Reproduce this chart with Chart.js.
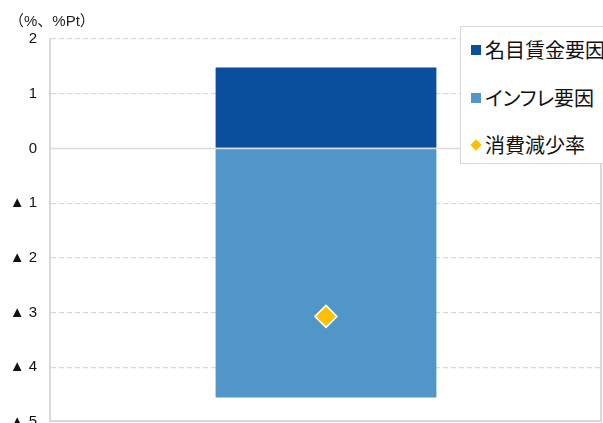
<!DOCTYPE html>
<html>
<head>
<meta charset="utf-8">
<script src="https://cdn.jsdelivr.net/npm/chart.js@4/dist/chart.umd.min.js"></script>
<style>
  html, body { margin: 0; padding: 0; background: #fff; }
  #wrap { width: 603px; height: 423px; position: relative; overflow: hidden; }
  #legend {
    position: absolute; left: 460px; top: 26px; width: 160px; height: 138px;
    background: #fff; border: 1.5px solid #d9d9d9; box-sizing: border-box;
  }
  .item {
    position: absolute; left: 0; height: 28px; line-height: 28px; white-space: nowrap;
    font-family: "Noto Sans CJK JP", sans-serif; font-size: 20px; color: #111;
    font-feature-settings: "palt";
  }
  .item .mk { position: absolute; left: 10px; top: 9px; width: 10px; height: 10px; }
  .item .mk.diamond { left: 11px; top: 10px; width: 8px; height: 8px; transform: rotate(45deg); }
  .item .tx { position: absolute; left: 24px; top: 0; }
</style>
</head>
<body>
<div id="wrap">
  <canvas id="c" width="603" height="423"></canvas>
  <div id="legend"></div>
</div>
<script>
// 消費減少率の要因分解
const categories = [''];
const seriesNames = ['名目賃金要因', 'インフレ要因', '消費減少率'];
const nominalWage = [1.48];
const inflation = [-4.55];
const consumptionDecline = [-3.07];
const tickValues = [2, 1, 0, -1, -2, -3, -4, -5];
const tickLabels = ['2', '1', '0', '▲ 1', '▲ 2', '▲ 3', '▲ 4', '▲ 5'];
const unitLabel = '（%、%Pt）';

const colors = ['#0A4F9E', '#5096C9', '#FFC000'];
const gridColor = '#d9d9d9';
const latin = '"Liberation Sans", Arial, "Noto Sans CJK JP", sans-serif';

// solid lines at zero, bottom and right edge of the plot area
const frameLines = {
  id: 'frameLines',
  afterDatasetsDraw(chart) {
    const { ctx, chartArea: a, scales: { y } } = chart;
    ctx.save();
    ctx.strokeStyle = gridColor;
    ctx.lineWidth = 1.5;
    const y0 = Math.round(y.getPixelForValue(0)) + 0.5;
    ctx.beginPath();
    ctx.moveTo(a.left, y0); ctx.lineTo(a.right, y0);
    ctx.stroke();
    ctx.lineWidth = 2;
    const yb = Math.round(y.getPixelForValue(y.min)) - 1;
    ctx.beginPath();
    ctx.moveTo(a.left, yb); ctx.lineTo(a.right, yb);
    ctx.moveTo(a.right - 1, a.top); ctx.lineTo(a.right - 1, yb);
    ctx.stroke();
    ctx.restore();
  }
};

// unit label above the value axis
const unitText = {
  id: 'unitText',
  afterDraw(chart) {
    const { ctx } = chart;
    ctx.save();
    ctx.font = '15px ' + latin;
    ctx.fillStyle = '#222';
    ctx.textAlign = 'left';
    ctx.textBaseline = 'middle';
    ctx.fillText(unitLabel, 9, 22);
    ctx.restore();
  }
};

const chart = new Chart(document.getElementById('c'), {
  data: {
    labels: categories,
    datasets: [
      { type: 'bar', label: seriesNames[0], data: nominalWage, backgroundColor: colors[0],
        barPercentage: 0.4, categoryPercentage: 1, order: 2 },
      { type: 'bar', label: seriesNames[1], data: inflation, backgroundColor: colors[1],
        barPercentage: 0.4, categoryPercentage: 1, order: 2 },
      { type: 'line', label: seriesNames[2], data: consumptionDecline, showLine: false,
        pointStyle: 'rectRot', pointRadius: 11, pointHoverRadius: 11,
        pointBackgroundColor: colors[2], pointBorderColor: '#fff', pointBorderWidth: 1.5,
        order: 1 }
    ]
  },
  options: {
    responsive: false,
    animation: false,
    events: [],
    layout: { autoPadding: false, padding: { top: 39, right: 1, bottom: 1, left: 0 } },
    plugins: { legend: { display: false }, tooltip: { enabled: false }, title: { display: false } },
    scales: {
      x: {
        stacked: true,
        display: false
      },
      y: {
        stacked: true,
        min: -5, max: 2,
        afterFit(scale) { scale.width = 50; },
        afterBuildTicks(scale) { scale.ticks = tickValues.map(v => ({ value: v })); },
        ticks: {
          padding: 0,
          color: '#111',
          font: { family: latin, size: 15, lineHeight: 0.1 },
          callback: (v) => tickLabels[tickValues.indexOf(v)]
        },
        grid: {
          drawTicks: true,
          tickLength: 13,
          tickColor: 'rgba(0,0,0,0)',
          lineWidth: 1.2,
          color: (ctx) => (ctx.tick && (ctx.tick.value === 0 || ctx.tick.value === -5)) ? 'rgba(0,0,0,0)' : gridColor
        },
        border: { display: true, color: gridColor, width: 2, dash: [5, 3] }
      }
    }
  },
  plugins: [frameLines, unitText]
});

// legend box built from the chart's datasets
const legendEl = document.getElementById('legend');
const rowCenters = [49, 97, 144];
chart.data.datasets.forEach((ds, i) => {
  const row = document.createElement('div');
  row.className = 'item';
  row.style.top = (rowCenters[i] - 26 - 14) + 'px';
  const mk = document.createElement('span');
  mk.className = 'mk' + (ds.type === 'line' ? ' diamond' : '');
  mk.style.background = colors[i];
  const tx = document.createElement('span');
  tx.className = 'tx';
  tx.textContent = ds.label;
  row.appendChild(mk);
  row.appendChild(tx);
  legendEl.appendChild(row);
});
</script>
</body>
</html>
